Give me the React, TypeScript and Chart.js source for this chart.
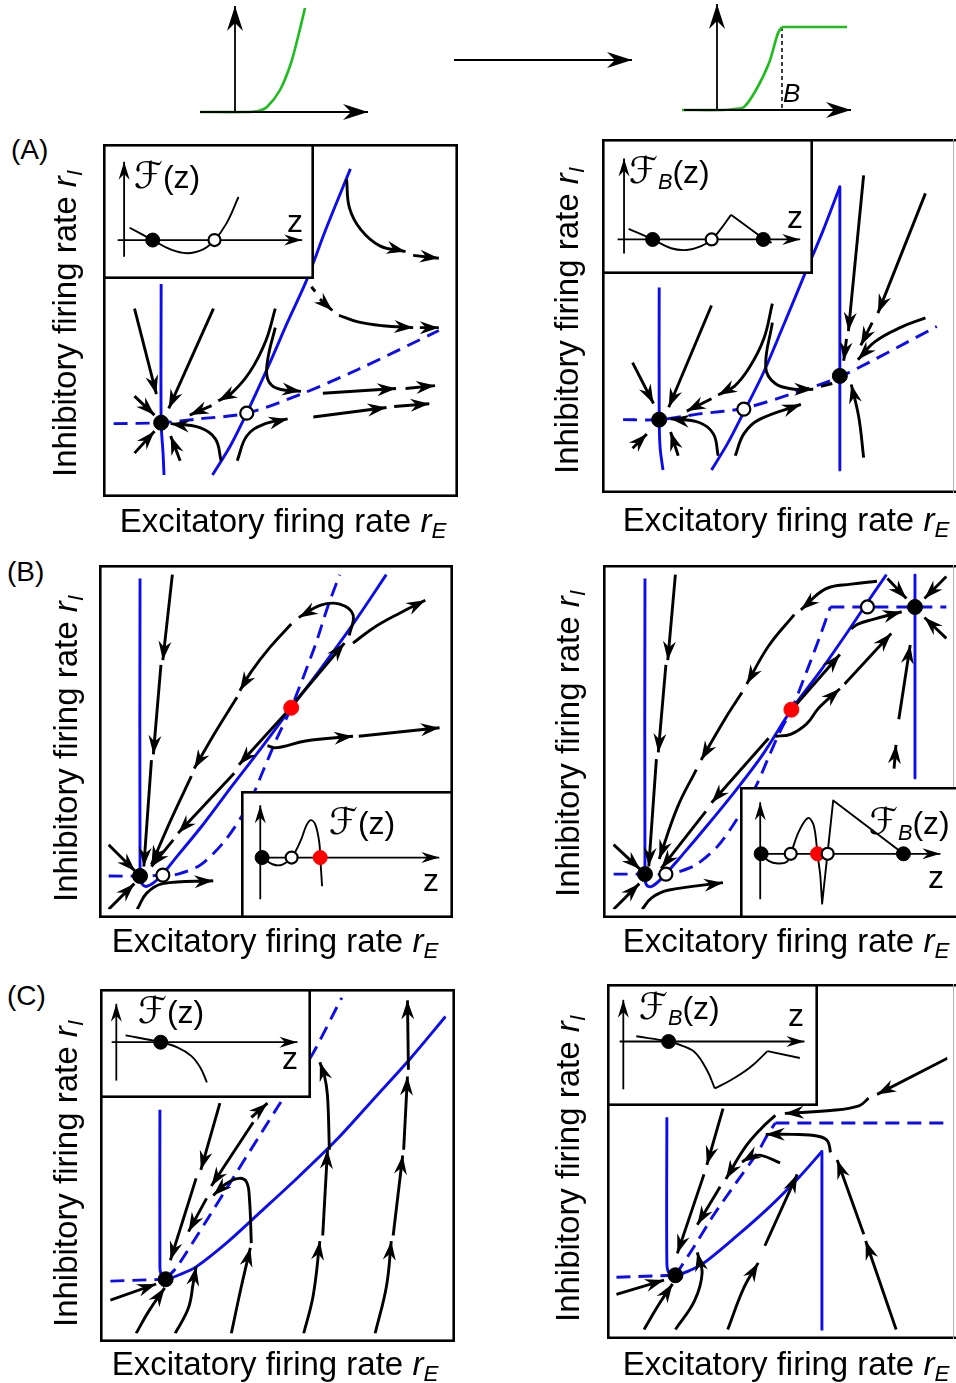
import React, { useEffect, useRef } from "react";
import { Chart, registerables } from "chart.js";
Chart.register(...registerables);

type Pt = [number, number];

// ---------------- top sketch: gain functions ----------------
const gainAxisXLeft: Pt[] = [[200, 18], [368, 18]];
const gainAxisYLeft: Pt[] = [[235, 18], [235, 124]];
const gainLeft: Pt[] = [[200, 18], [246, 18], [258, 19], [267, 23], [280, 40], [291, 67], [299, 97], [305, 122]];
const gainAxisXRight: Pt[] = [[684, 20], [851, 20]];
const gainAxisYRight: Pt[] = [[717, 20], [717, 126]];
const gainRight: Pt[] = [[682, 20], [722, 20], [734, 21], [744, 23], [756, 40], [769, 67], [778, 97], [782, 103]];
const gainRightSat: Pt[] = [[782, 103], [847, 103]];
const gainThreshold: Pt[] = [[782, 103], [782, 20]];
const boundArrow: Pt[] = [[454, 70], [632, 70]];

// ---------------- (A) left ----------------
const AL_nullI: Pt[] = [[52, 215], [52, 69], [54, 37], [55, 14]];
const AL_nullE: Pt[] = [[106, 14], [125, 45], [142, 79], [165, 129], [185, 175], [205, 219], [225, 272], [251, 336]];
const AL_sep: Pt[] = [[2, 68], [52, 69], [92, 73], [142, 79], [199, 99], [259, 125], [344, 166]];
const AL_stable: Pt[] = [[52, 69]];
const AL_saddle: Pt[] = [[142, 79]];
const AL_flow: Pt[][] = [
  [[24, 189], [47, 99]],
  [[107, 189], [60, 84]],
  [[24, 97], [45, 77]],
  [[24, 37], [45, 60]],
  [[72, 29], [62, 55]],
  [[115, 29], [109, 52], [92, 64], [62, 68]],
  [[172, 189], [162, 155], [145, 122], [125, 99], [112, 92]],
  [[105, 87], [82, 77]],
  [[172, 169], [164, 135], [164, 115], [174, 105], [199, 102]],
  [[222, 100], [299, 105]],
  [[309, 105], [340, 108]],
  [[132, 29], [142, 55], [159, 67], [185, 73]],
  [[212, 75], [289, 85]],
  [[297, 86], [334, 89]],
  [[247, 325], [250, 295], [262, 272], [282, 255], [309, 249]],
  [[317, 245], [344, 242]],
  [[219, 199], [232, 187]],
  [[239, 182], [259, 175], [285, 171], [317, 169]],
  [[324, 169], [344, 169]],
];
const AL_flowPlain: Pt[][] = [[[210, 212], [214, 207]]];
const ALi_axisX: Pt[] = [[7, 35], [207, 35]];
const ALi_axisY: Pt[] = [[14, 16], [14, 124]];
const ALi_F: Pt[] = [[20, 49], [45, 35], [65, 24], [82, 20], [99, 24], [112, 35], [125, 54], [138, 84]];
const ALi_stable: Pt[] = [[45, 35]];
const ALi_unstable: Pt[] = [[112, 35]];

// ---------------- (A) right ----------------
const AR_nullI: Pt[] = [[51, 207], [51, 70], [52, 38], [55, 15]];
const AR_nullE: Pt[] = [[106, 15], [123, 43], [140, 76], [160, 116], [180, 163], [202, 216], [223, 266], [241, 313]];
const AR_nullECap: Pt[] = [[241, 313], [241, 15]];
const AR_sep: Pt[] = [[13, 68], [51, 68], [93, 74], [140, 80], [193, 96], [241, 113], [343, 166]];
const AR_stable: Pt[] = [[51, 68], [241, 114]];
const AR_saddle: Pt[] = [[140, 79]];
const AR_flow: Pt[][] = [
  [[23, 128], [45, 85]],
  [[106, 188], [61, 81]],
  [[23, 38], [38, 53]],
  [[71, 30], [63, 55]],
  [[113, 30], [108, 53], [93, 65], [63, 69]],
  [[170, 190], [161, 153], [146, 123], [130, 103], [113, 94]],
  [[106, 90], [80, 77]],
  [[170, 170], [163, 123], [173, 106], [193, 100], [213, 100]],
  [[131, 30], [140, 53], [156, 68], [200, 84]],
  [[266, 325], [250, 161]],
  [[248, 153], [245, 130]],
  [[331, 306], [281, 180]],
  [[275, 170], [263, 146]],
  [[331, 175], [305, 165], [278, 150], [260, 131]],
  [[266, 28], [261, 70], [253, 105]],
];
const AR_flowPlain: Pt[][] = [[[221, 103], [233, 106]]];
const ARi_axisX: Pt[] = [[8, 30], [206, 30]];
const ARi_axisY: Pt[] = [[15, 14], [15, 122]];
const ARi_F: Pt[] = [[20, 42], [46, 30], [66, 20], [83, 18], [98, 22], [110, 30], [120, 42], [131, 58]];
const ARi_Fcap: Pt[] = [[131, 58], [166, 31], [175, 26]];
const ARi_stable: Pt[] = [[46, 30], [166, 30]];
const ARi_unstable: Pt[] = [[110, 30]];

// ---------------- (B) left ----------------
const BL_null: Pt[] = [[34, 348], [34, 40], [36, 27], [41, 24], [54, 33], [74, 57], [101, 90], [131, 130], [164, 173], [193, 212], [224, 253], [258, 300], [293, 352]];
const BL_sep: Pt[] = [[1, 35], [34, 35], [58, 36], [74, 37], [98, 47], [124, 73], [148, 110], [164, 147], [178, 180], [193, 212], [218, 277], [231, 317], [244, 352]];
const BL_stable: Pt[] = [[34, 35]];
const BL_unstable: Pt[] = [[58, 36]];
const BL_saddle: Pt[] = [[193, 212]];
const BL_flow: Pt[][] = [
  [[68, 352], [58, 262]],
  [[56, 257], [48, 163]],
  [[46, 157], [38, 45]],
  [[254, 288], [258, 310], [244, 321], [224, 320], [201, 307]],
  [[193, 300], [171, 276], [151, 250], [139, 230]],
  [[136, 223], [113, 186], [91, 148]],
  [[88, 140], [66, 93], [46, 47]],
  [[188, 207], [138, 152]],
  [[133, 143], [74, 80]],
  [[69, 73], [46, 45]],
  [[196, 217], [249, 280]],
  [[258, 280], [281, 297], [308, 312], [334, 325]],
  [[168, 172], [178, 170], [208, 177], [258, 182]],
  [[264, 182], [349, 191]],
  [[1, 68], [29, 40]],
  [[1, 0], [28, 27]],
  [[31, 0], [41, 17], [58, 27], [111, 30]],
];
const BLi_axisX: Pt[] = [[12, 60], [206, 60]];
const BLi_axisY: Pt[] = [[12, 12], [12, 120]];
const BLi_F: Pt[] = [[14, 60], [26, 52], [36, 52], [46, 60], [56, 80], [62, 97], [67, 103], [72, 97], [76, 77], [77, 60], [79, 27]];
const BLi_stable: Pt[] = [[14, 60]];
const BLi_unstable: Pt[] = [[46, 60]];
const BLi_saddle: Pt[] = [[77, 60]];

// ---------------- (B) right ----------------
const BR_null: Pt[] = [[35, 348], [35, 32], [37, 25], [42, 24], [52, 32], [75, 58], [102, 90], [132, 127], [159, 163], [189, 210], [219, 250], [249, 293], [269, 323], [289, 352]];
const BR_nullCap: Pt[] = [[319, 352], [319, 138]];
const BR_sep: Pt[] = [[2, 37], [35, 37], [57, 37], [72, 40], [89, 47], [112, 67], [135, 100], [152, 130], [165, 160], [177, 187], [189, 210], [205, 250], [219, 287], [230, 318]];
const BR_sepCap: Pt[] = [[230, 318], [352, 318]];
const BR_stable: Pt[] = [[35, 37], [319, 318]];
const BR_unstable: Pt[] = [[57, 37], [269, 318]];
const BR_saddle: Pt[] = [[189, 210]];
const BR_flow: Pt[][] = [
  [[67, 352], [59, 262]],
  [[57, 257], [49, 165]],
  [[47, 158], [39, 45]],
  [[279, 345], [252, 342], [225, 337], [199, 315]],
  [[192, 310], [165, 277], [142, 237]],
  [[137, 228], [119, 200], [94, 157]],
  [[89, 147], [69, 107], [50, 53]],
  [[165, 180], [105, 112]],
  [[99, 103], [52, 43]],
  [[192, 213], [240, 268]],
  [[252, 295], [259, 300], [275, 305], [305, 313]],
  [[172, 182], [188, 184], [205, 195], [218, 212], [240, 232]],
  [[245, 237], [294, 290]],
  [[297, 148], [299, 173]],
  [[302, 200], [314, 278]],
  [[290, 348], [310, 327]],
  [[352, 350], [329, 327]],
  [[352, 285], [329, 307]],
  [[2, 68], [30, 42]],
  [[2, 0], [29, 27]],
  [[32, 0], [42, 12], [59, 20], [117, 28]],
];
const BRi_axisX: Pt[] = [[12, 64], [208, 64]];
const BRi_axisY: Pt[] = [[13, 12], [13, 123]];
const BRi_F: Pt[] = [[14, 64], [22, 56], [32, 53], [42, 55], [46, 64], [55, 90], [65, 105], [71, 96], [75, 64], [78, 40]];
const BRi_Fkink: Pt[] = [[78, 40], [80, 7], [92, 125], [168, 64], [173, 58]];
const BRi_stable: Pt[] = [[14, 64], [168, 64]];
const BRi_unstable: Pt[] = [[46, 64], [86, 64]];
const BRi_saddle: Pt[] = [[75, 64]];

// ---------------- (C) left ----------------
const CL_null: Pt[] = [[54, 235], [54, 70], [55, 63], [60, 57], [75, 62], [92, 70], [125, 96], [160, 128], [200, 165], [240, 204], [280, 248], [318, 290], [354, 333]];
const CL_sepLow: Pt[] = [[2, 55], [60, 57]];
const CL_sep: Pt[] = [[60, 57], [72, 70], [102, 117], [135, 170], [179, 240], [214, 293], [245, 353]];
const CL_stable: Pt[] = [[60, 57]];
const CL_flow: Pt[][] = [
  [[117, 242], [97, 172]],
  [[92, 163], [65, 77]],
  [[150, 227], [167, 242]],
  [[152, 222], [108, 155]],
  [[103, 142], [84, 107]],
  [[150, 95], [148, 142], [145, 159], [137, 163], [123, 157], [110, 145]],
  [[2, 35], [50, 52]],
  [[29, 0], [42, 23], [59, 48]],
  [[70, 0], [84, 27], [89, 53], [92, 70]],
  [[129, 0], [139, 47], [149, 90]],
  [[205, 0], [215, 40], [222, 97]],
  [[225, 103], [230, 193]],
  [[232, 193], [230, 250], [227, 270], [222, 285]],
  [[280, 0], [292, 50], [297, 97]],
  [[299, 103], [309, 187]],
  [[310, 193], [314, 270]],
  [[315, 277], [314, 350]],
];
const CLi_axisX: Pt[] = [[4, 56], [205, 56]];
const CLi_axisY: Pt[] = [[9, 11], [9, 101]];
const CLi_F: Pt[] = [[19, 64], [57, 56], [75, 50], [90, 40], [100, 26], [107, 9]];
const CLi_stable: Pt[] = [[57, 56]];

// ---------------- (C) right ----------------
const CR_null: Pt[] = [[54, 224], [54, 71], [56, 61], [63, 58], [78, 63], [93, 71], [126, 98], [160, 128], [193, 161], [217, 188]];
const CR_nullCap: Pt[] = [[217, 188], [217, 0]];
const CR_sepLow: Pt[] = [[1, 56], [63, 58]];
const CR_sep: Pt[] = [[63, 58], [80, 84], [103, 121], [126, 154], [150, 188], [160, 206], [168, 218]];
const CR_sepCap: Pt[] = [[168, 218], [349, 218]];
const CR_stable: Pt[] = [[63, 58]];
const CR_flow: Pt[][] = [
  [[113, 233], [96, 174]],
  [[93, 164], [65, 81]],
  [[168, 226], [153, 212], [136, 192], [116, 159]],
  [[110, 151], [86, 111]],
  [[349, 286], [275, 248]],
  [[266, 244], [256, 236], [226, 231], [178, 228]],
  [[226, 187], [223, 199], [213, 204], [186, 206], [158, 206]],
  [[173, 176], [153, 184], [141, 182], [133, 177]],
  [[118, 1], [135, 45], [150, 71]],
  [[157, 89], [191, 164]],
  [[295, 1], [263, 94]],
  [[261, 101], [233, 179]],
  [[1, 38], [51, 53]],
  [[30, 1], [46, 28], [60, 49]],
  [[63, 1], [83, 31], [91, 60], [86, 82]],
];
const CRi_axisX: Pt[] = [[5, 65], [205, 65]];
const CRi_axisY: Pt[] = [[9, 10], [9, 113]];
const CRi_F: Pt[] = [[23, 71], [58, 65], [73, 60], [87, 52], [100, 31], [108, 11]];
const CRi_Frise: Pt[] = [[108, 11], [126, 21], [146, 35], [165, 54]];
const CRi_Fkink: Pt[] = [[165, 54], [200, 46]];
const CRi_stable: Pt[] = [[58, 65]];

// ---------------- styling helpers ----------------
const BLUE = "#0c0cee";
const GREEN = "#1dbd1d";
const RED = "#ff0000";
const FONT = '"Liberation Sans", Arial, Helvetica, sans-serif';
const LW = 2.9;

const line = (pts: Pt[], color: string, width: number, extra: any = {}) => ({
  data: pts.map(([x, y]) => ({ x, y })),
  showLine: true,
  borderColor: color,
  backgroundColor: color,
  borderWidth: width,
  pointRadius: 0,
  pointHoverRadius: 0,
  pointHitRadius: 0,
  tension: pts.length > 2 ? 0.4 : 0,
  borderCapStyle: "butt",
  borderJoinStyle: "round",
  order: 1,
  ...extra,
});
const flow = (pts: Pt[]) => line(pts, "#000", LW, { arrow: true, arrowLen: 19, arrowHalf: 6.5 });
const flowPlain = (pts: Pt[]) => line(pts, "#000", LW);
const nullS = (pts: Pt[], tension = 0.3) => line(pts, BLUE, LW, { order: 2, tension: pts.length > 2 ? tension : 0 });
const nullD = (pts: Pt[], tension = 0.3) =>
  line(pts, BLUE, LW, { order: 2, borderDash: [14, 8], tension: pts.length > 2 ? tension : 0 });
const axis = (pts: Pt[]) => line(pts, "#000", 1.8, { arrow: true, arrowLen: 18, arrowHalf: 5.5 });
const bigAxis = (pts: Pt[]) => line(pts, "#000", 1.8, { arrow: true, arrowLen: 25, arrowHalf: 8 });
const fcurve = (pts: Pt[], tension = 0.4) => line(pts, "#000", 1.9, { tension: pts.length > 2 ? tension : 0 });
const dots = (pts: Pt[], kind: "stable" | "unstable" | "red", r = 7.5) => ({
  data: pts.map(([x, y]) => ({ x, y })),
  showLine: false,
  pointRadius: kind === "unstable" ? r - 1 : r,
  pointHoverRadius: kind === "unstable" ? r - 1 : r,
  pointBackgroundColor: kind === "stable" ? "#000" : kind === "red" ? RED : "#fff",
  pointBorderColor: kind === "red" ? RED : "#000",
  pointBorderWidth: kind === "unstable" ? 2.2 : 1,
  order: 0,
});

const arrowPlugin = {
  id: "arrowheads",
  afterDatasetsDraw(chart: any) {
    const ctx = chart.ctx;
    chart.data.datasets.forEach((ds: any, i: number) => {
      if (!ds.arrow) return;
      const els = chart.getDatasetMeta(i).data;
      if (els.length < 2) return;
      const a = els[els.length - 2];
      const b = els[els.length - 1];
      const ang = Math.atan2(b.y - a.y, b.x - a.x);
      const L = ds.arrowLen;
      const H = ds.arrowHalf;
      ctx.save();
      ctx.translate(b.x, b.y);
      ctx.rotate(ang);
      ctx.beginPath();
      ctx.moveTo(0, 0);
      ctx.lineTo(-L, H);
      ctx.lineTo(-0.68 * L, 0);
      ctx.lineTo(-L, -H);
      ctx.closePath();
      ctx.fillStyle = ds.borderColor;
      ctx.fill();
      ctx.restore();
    });
  },
};

const framePlugin = {
  id: "frame",
  beforeDraw(chart: any, _a: any, opts: any) {
    if (!opts || !opts.bg) return;
    const ctx = chart.ctx;
    ctx.save();
    ctx.fillStyle = opts.bg;
    ctx.fillRect(0, 0, chart.width, chart.height);
    ctx.restore();
  },
  afterDraw(chart: any, _a: any, opts: any) {
    if (!opts || !opts.lw) return;
    const ctx = chart.ctx;
    const w = chart.width;
    const h = chart.height;
    const o = opts.lw / 2;
    ctx.save();
    ctx.strokeStyle = "#000";
    ctx.lineWidth = opts.lw;
    if (opts.openRight) {
      ctx.beginPath();
      ctx.moveTo(w + 5, o);
      ctx.lineTo(o, o);
      ctx.lineTo(o, h - o);
      ctx.lineTo(w + 5, h - o);
      ctx.stroke();
      if (opts.edge) {
        ctx.strokeStyle = "#b0b0b0";
        ctx.lineWidth = 1;
        ctx.beginPath();
        ctx.moveTo(w - 2.5, 0);
        ctx.lineTo(w - 2.5, h);
        ctx.stroke();
      }
    } else {
      ctx.strokeRect(o, o, w - 2 * o, h - 2 * o);
    }
    ctx.restore();
  },
};

type PlotProps = { left: number; top: number; w: number; h: number; datasets: any[]; frame?: any };

function Plot({ left, top, w, h, datasets, frame }: PlotProps) {
  const ref = useRef<HTMLCanvasElement>(null);
  useEffect(() => {
    const chart = new Chart(ref.current as HTMLCanvasElement, {
      type: "scatter",
      data: { datasets } as any,
      options: {
        animation: false,
        responsive: false,
        maintainAspectRatio: false,
        devicePixelRatio: 1,
        events: [],
        layout: { padding: 0 },
        plugins: {
          legend: { display: false },
          tooltip: { enabled: false },
          frame: frame || {},
        } as any,
        scales: {
          x: { type: "linear", min: 0, max: w, display: false },
          y: { type: "linear", min: 0, max: h, display: false },
        },
      },
      plugins: [framePlugin as any, arrowPlugin as any],
    });
    return () => chart.destroy();
  }, []);
  return <canvas ref={ref} width={w} height={h} style={{ position: "absolute", left, top, width: w, height: h }} />;
}

const Sub = ({ children }: { children: any }) => (
  <span style={{ fontSize: "0.68em", fontStyle: "italic", position: "relative", top: "0.28em" }}>{children}</span>
);

const LABEL_SIZE = 33;

const XLabel = ({ cx, top }: { cx: number; top: number }) => (
  <div
    style={{
      position: "absolute", left: cx - 250, top, width: 500, textAlign: "center",
      fontSize: LABEL_SIZE, lineHeight: `${LABEL_SIZE}px`, fontFamily: FONT, whiteSpace: "nowrap",
    }}
  >
    Excitatory firing rate <i>r</i>
    <Sub>E</Sub>
  </div>
);

const YLabel = ({ cx, cy }: { cx: number; cy: number }) => (
  <div
    style={{
      position: "absolute", left: cx - 250, top: cy - LABEL_SIZE / 2, width: 500, height: LABEL_SIZE, textAlign: "center",
      fontSize: LABEL_SIZE, lineHeight: `${LABEL_SIZE}px`, fontFamily: FONT, whiteSpace: "nowrap", transform: "rotate(-90deg)",
    }}
  >
    Inhibitory firing rate <i>r</i>
    <Sub>I</Sub>
  </div>
);

const Txt = ({ left, top, size = 32, children, italic }: any) => (
  <div
    style={{
      position: "absolute", left, top, fontSize: size, lineHeight: `${size}px`, fontFamily: FONT,
      whiteSpace: "nowrap", fontStyle: italic ? "italic" : "normal",
    }}
  >
    {children}
  </div>
);

const FLabel = ({ left, top, sub }: { left: number; top: number; sub?: boolean }) => (
  <Txt left={left} top={top}>
    <span style={{ fontFamily: '"DejaVu Sans", sans-serif', fontSize: "1.15em", lineHeight: "32px" }}>ℱ</span>
    {sub ? <Sub>B</Sub> : null}(z)
  </Txt>
);

export default function App() {
  const topDs = [
    bigAxis(gainAxisXLeft), bigAxis(gainAxisYLeft),
    line(gainLeft, GREEN, 2.6, { tension: 0.3 }),
    bigAxis(gainAxisXRight), bigAxis(gainAxisYRight),
    line(gainRight, GREEN, 2.6, { tension: 0.3 }),
    line(gainRightSat, GREEN, 2.6),
    line(gainThreshold, "#000", 1.5, { borderDash: [4, 3] }),
    bigAxis(boundArrow),
  ];

  const mainFrame = { lw: 2.6 };
  const openFrame = { lw: 2.6, openRight: true, edge: true };
  const insetFrame = { lw: 2.6, bg: "#fff" };
  const insetOpen = { lw: 2.6, bg: "#fff", openRight: true };

  const AL = [
    nullS(AL_nullI), nullS(AL_nullE), nullD(AL_sep),
    ...AL_flow.map(flow), ...AL_flowPlain.map(flowPlain),
    dots(AL_stable, "stable"), dots(AL_saddle, "unstable"),
  ];
  const ALi = [axis(ALi_axisX), axis(ALi_axisY), fcurve(ALi_F), dots(ALi_stable, "stable", 7), dots(ALi_unstable, "unstable", 7)];

  const AR = [
    nullS(AR_nullI), nullS(AR_nullE), nullS(AR_nullECap), nullD(AR_sep),
    ...AR_flow.map(flow), ...AR_flowPlain.map(flowPlain),
    dots(AR_stable, "stable"), dots(AR_saddle, "unstable"),
  ];
  const ARi = [
    axis(ARi_axisX), axis(ARi_axisY), fcurve(ARi_F), fcurve(ARi_Fcap, 0),
    dots(ARi_stable, "stable", 7), dots(ARi_unstable, "unstable", 7),
  ];

  const BL = [
    nullS(BL_null), nullD(BL_sep), ...BL_flow.map(flow),
    dots(BL_stable, "stable"), dots(BL_unstable, "unstable"), dots(BL_saddle, "red"),
  ];
  const BLi = [
    axis(BLi_axisX), axis(BLi_axisY), fcurve(BLi_F, 0.35),
    dots(BLi_stable, "stable", 7), dots(BLi_unstable, "unstable", 7), dots(BLi_saddle, "red", 7),
  ];

  const BR = [
    nullS(BR_null), nullS(BR_nullCap), nullD(BR_sep), nullD(BR_sepCap), ...BR_flow.map(flow),
    dots(BR_stable, "stable"), dots(BR_unstable, "unstable"), dots(BR_saddle, "red"),
  ];
  const BRi = [
    axis(BRi_axisX), axis(BRi_axisY), fcurve(BRi_F, 0.35), fcurve(BRi_Fkink, 0),
    dots(BRi_stable, "stable", 7), dots(BRi_unstable, "unstable", 7), dots(BRi_saddle, "red", 7),
  ];

  const CL = [nullS(CL_null), nullD(CL_sepLow), nullD(CL_sep, 0.2), ...CL_flow.map(flow), dots(CL_stable, "stable")];
  const CLi = [axis(CLi_axisX), axis(CLi_axisY), fcurve(CLi_F), dots(CLi_stable, "stable", 7)];

  const CR = [
    nullS(CR_null), nullS(CR_nullCap), nullD(CR_sepLow), nullD(CR_sep, 0.2), nullD(CR_sepCap),
    ...CR_flow.map(flow), dots(CR_stable, "stable"),
  ];
  const CRi = [
    axis(CRi_axisX), axis(CRi_axisY), fcurve(CRi_F), fcurve(CRi_Frise), fcurve(CRi_Fkink, 0),
    dots(CRi_stable, "stable", 7),
  ];

  return (
    <div style={{ position: "absolute", left: 0, top: 0, width: 956, height: 1383, overflow: "hidden", background: "#fff" }}>
      <Plot left={0} top={0} w={956} h={130} datasets={topDs} />
      <Txt left={783} top={80} size={26} italic>B</Txt>

      <Plot left={103} top={144} w={355} h={353} datasets={AL} frame={mainFrame} />
      <Plot left={103} top={144} w={211} h={135} datasets={ALi} frame={insetFrame} />
      <Plot left={602} top={139} w={354} h={354} datasets={AR} frame={openFrame} />
      <Plot left={602} top={139} w={211} h={135} datasets={ARi} frame={insetFrame} />

      <Plot left={99} top={565} w={354} h={353} datasets={BL} frame={mainFrame} />
      <Plot left={241} top={791} w={212} h={127} datasets={BLi} frame={insetFrame} />
      <Plot left={603} top={565} w={353} h={353} datasets={BR} frame={openFrame} />
      <Plot left={740} top={787} w={216} h={131} datasets={BRi} frame={insetOpen} />

      <Plot left={100} top={989} w={355} h={353} datasets={CL} frame={mainFrame} />
      <Plot left={100} top={989} w={211} h={109} datasets={CLi} frame={insetFrame} />
      <Plot left={607} top={984} w={349} h={355} datasets={CR} frame={openFrame} />
      <Plot left={607} top={984} w={211} h={122} datasets={CRi} frame={insetFrame} />

      <Txt left={11} top={136} size={28}>(A)</Txt>
      <Txt left={7} top={558} size={28}>(B)</Txt>
      <Txt left={7} top={982} size={28}>(C)</Txt>

      <YLabel cx={64} cy={323} />
      <YLabel cx={566} cy={320} />
      <YLabel cx={65} cy={748} />
      <YLabel cx={567} cy={743} />
      <YLabel cx={65} cy={1173} />
      <YLabel cx={567} cy={1168} />

      <XLabel cx={283} top={504} />
      <XLabel cx={786} top={503} />
      <XLabel cx={275} top={924} />
      <XLabel cx={786} top={924} />
      <XLabel cx={275} top={1347} />
      <XLabel cx={786} top={1347} />

      <FLabel left={134} top={160} />
      <Txt left={287} top={205}>z</Txt>
      <FLabel left={629} top={155} sub />
      <Txt left={787} top={201}>z</Txt>
      <FLabel left={329} top={806} />
      <Txt left={423} top={864}>z</Txt>
      <FLabel left={869} top={806} sub />
      <Txt left={928} top={861}>z</Txt>
      <FLabel left={138} top={995} />
      <Txt left={282} top={1042}>z</Txt>
      <FLabel left={639} top={991} sub />
      <Txt left={788} top={999}>z</Txt>
    </div>
  );
}
